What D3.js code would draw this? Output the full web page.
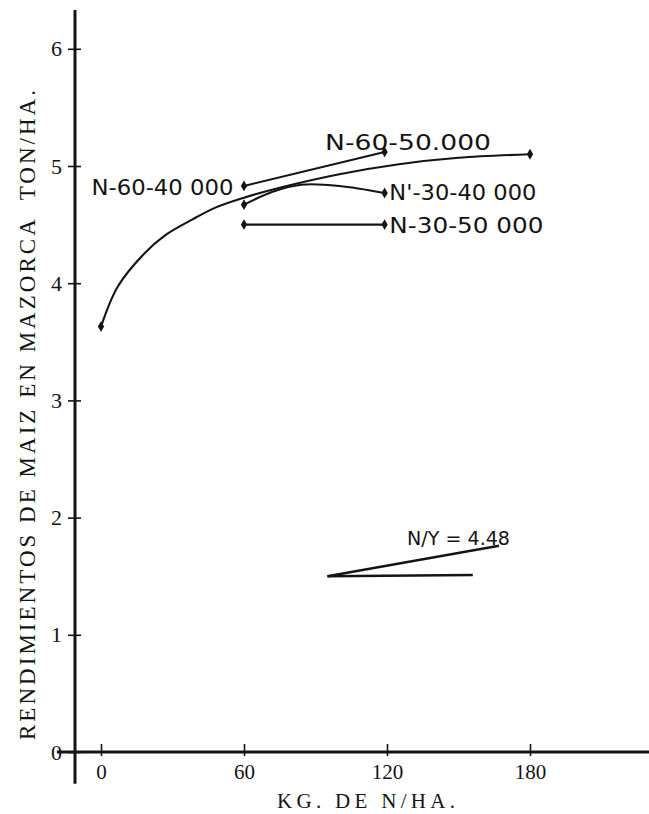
<!DOCTYPE html>
<html>
<head>
<meta charset="utf-8">
<script src="https://cdn.jsdelivr.net/npm/d3@7"></script>
<style>
  html, body { margin: 0; padding: 0; background: #fff; }
  svg { display: block; }
</style>
</head>
<body>
<div id="chart"></div>
<script>
// Respuesta del maiz a N — curva ajustada y tratamientos

const xTicks = [0, 60, 120, 180];
const yTicks = [0, 1, 2, 3, 4, 5, 6];

// curva de respuesta general (kg N/ha, ton/ha)
const responseCurve = [
  [0, 3.63], [7, 3.97], [18, 4.25], [27, 4.41], [38, 4.54], [48, 4.645],
  [60, 4.73], [75, 4.815], [100, 4.93], [125, 5.015], [150, 5.07], [180, 5.10]
];
const n60_40000 = [[60, 4.83], [119, 5.12]];
const n30_40000 = [[60, 4.67], [72, 4.78], [84, 4.84], [100, 4.83], [119, 4.77]];
const n30_50000 = [[60, 4.50], [119, 4.50]];

// triangulo de pendiente N/Y
const slopeBase = [[95, 1.50], [156, 1.51]];
const slopeLine = [[95, 1.50], [167, 1.76]];

const labels = [
  { text: 'N-60-50.000', x: 94,  y: 5.14, len: 166 },
  { text: 'N-60-40 000', x: -4,  y: 4.75, len: 142 },
  { text: "N'-30-40 000", x: 121, y: 4.71, len: 147 },
  { text: 'N-30-50 000', x: 121, y: 4.43, len: 154 }
];

const W = 649, H = 814;
const x = d3.scaleLinear().domain([0, 180]).range([101, 530]);
const y = d3.scaleLinear().domain([0, 6]).range([752, 48.8]);

const svg = d3.select('#chart').append('svg')
  .attr('width', W).attr('height', H)
  .attr('viewBox', `0 0 ${W} ${H}`);

const ink = '#141414';
const serif = '"Liberation Serif", "DejaVu Serif", serif';
const sans = '"DejaVu Sans", "Liberation Sans", sans-serif';

// ejes
svg.append('line')
  .attr('x1', x(-18.5)).attr('x2', W)
  .attr('y1', y(0)).attr('y2', y(0))
  .attr('stroke', ink).attr('stroke-width', 2.8);
svg.append('line')
  .attr('x1', 75).attr('x2', 75)
  .attr('y1', y(6.33)).attr('y2', y(-0.27))
  .attr('stroke', ink).attr('stroke-width', 3);

const gy = svg.append('g')
  .attr('transform', 'translate(75,0)')
  .call(d3.axisLeft(y).tickValues(yTicks).tickSize(7).tickPadding(6).tickFormat(d3.format('d')));
gy.select('.domain').remove();
gy.selectAll('.tick line').attr('x1', 6).attr('stroke', ink).attr('stroke-width', 1.6);
gy.selectAll('.tick text')
  .attr('font-family', serif).attr('font-size', 22).attr('fill', ink);

const gx = svg.append('g')
  .attr('transform', `translate(0,${y(0)})`)
  .call(d3.axisBottom(x).tickValues(xTicks).tickSize(4).tickPadding(8));
gx.select('.domain').remove();
gx.selectAll('.tick line').attr('y1', -8).attr('stroke', ink).attr('stroke-width', 1.6);
gx.selectAll('.tick text')
  .attr('font-family', serif).attr('font-size', 21).attr('fill', ink);

// titulos de ejes
svg.append('text')
  .attr('x', 366).attr('y', 808)
  .attr('text-anchor', 'middle')
  .attr('font-family', serif).attr('font-size', 21).attr('fill', ink)
  .attr('textLength', 178).attr('lengthAdjust', 'spacing')
  .text('KG. DE N/HA.');

svg.append('text')
  .attr('transform', 'translate(35,415) rotate(-90)')
  .attr('text-anchor', 'middle')
  .attr('font-family', serif).attr('font-size', 23).attr('fill', ink)
  .attr('textLength', 650).attr('lengthAdjust', 'spacing')
  .style('white-space', 'pre')
  .text('RENDIMIENTOS DE MAIZ EN MAZORCA  TON/HA.');

// series
const line = d3.line().x(d => x(d[0])).y(d => y(d[1]));
const smooth = d3.line().x(d => x(d[0])).y(d => y(d[1])).curve(d3.curveCatmullRom.alpha(0.5));

const series = [
  { pts: responseCurve, gen: smooth },
  { pts: n60_40000, gen: line },
  { pts: n30_40000, gen: smooth },
  { pts: n30_50000, gen: line }
];

series.forEach(s => {
  svg.append('path')
    .attr('d', s.gen(s.pts))
    .attr('fill', 'none')
    .attr('stroke', ink)
    .attr('stroke-width', 2.1);

  const ends = [s.pts[0], s.pts[s.pts.length - 1]];
  svg.selectAll(null)
    .data(ends)
    .join('path')
    .attr('transform', d => `translate(${x(d[0])},${y(d[1])})`)
    .attr('d', d3.symbol(d3.symbolDiamond, 34))
    .attr('fill', ink);
});

// etiquetas de tratamientos
svg.selectAll(null)
  .data(labels)
  .join('text')
  .attr('x', d => x(d.x))
  .attr('y', d => y(d.y))
  .attr('font-family', sans)
  .attr('font-size', 22)
  .attr('fill', ink)
  .attr('textLength', d => d.len)
  .attr('lengthAdjust', 'spacingAndGlyphs')
  .text(d => d.text);

// indicador de pendiente
[slopeBase, slopeLine].forEach(pts => {
  svg.append('path')
    .attr('d', line(pts))
    .attr('fill', 'none')
    .attr('stroke', ink)
    .attr('stroke-width', 2.4);
});
svg.append('text')
  .attr('x', x(128.4)).attr('y', y(1.77))
  .attr('font-family', sans).attr('font-size', 19)
  .attr('fill', ink)
  .attr('textLength', 103).attr('lengthAdjust', 'spacingAndGlyphs')
  .text('N/Y = 4.48');
</script>
</body>
</html>
